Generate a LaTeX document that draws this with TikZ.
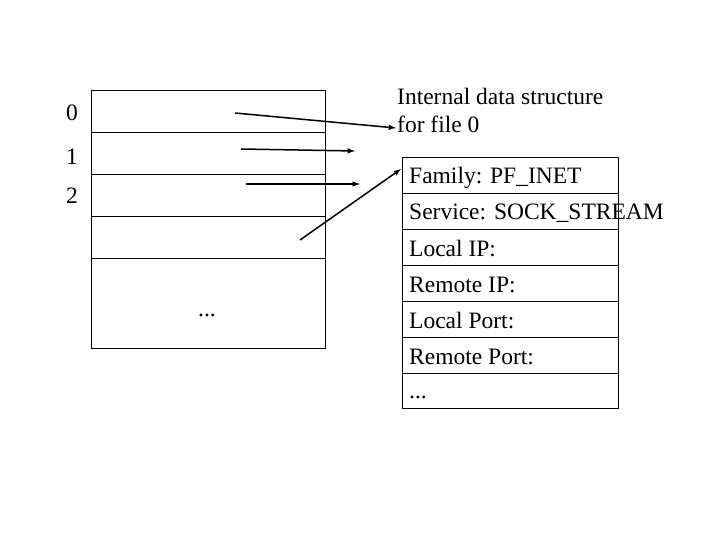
\documentclass[tikz,border=0pt]{standalone}
\usepackage{fontspec}
\setmainfont{Liberation Serif}
\begin{document}
\begin{tikzpicture}[x=1pt,y=-1pt,
  lab/.style={anchor=base west,inner sep=0,font=\fontsize{23.5}{27}\selectfont},
  arr/.style={-latex,line width=1.5pt}]
\useasboundingbox (0,0) rectangle (720,540);
\draw (91,90) rectangle (325,348);
\foreach \y in {132,174,216,258} \draw (91,\y) -- (325,\y);
\node[lab] (n0) at (66,121) {0};
\node[lab] (n1) at (66,165) {1};
\node[lab] (n2) at (66,204) {2};
\node[lab] (dl) at (198,316) {...};
\draw (402,157) rectangle (618,408);
\foreach \y in {193,229,265,301,337,373} \draw (402,\y) -- (618,\y);
\node[lab] (r1) at (409,184) {Family: PF\_INET};
\node[lab] (r2) at (409,220) {Service: SOCK\_STREAM};
\node[lab] (r3) at (409,256) {Local IP:};
\node[lab] (r4) at (409,292) {Remote IP:};
\node[lab] (r5) at (409,328) {Local Port:};
\node[lab] (r6) at (409,364) {Remote Port:};
\node[lab] (r7) at (409,398) {...};
\node[lab] (t1) at (397,105) {Internal data structure};
\node[lab] (t2) at (397,133) {for file 0};
\coordinate (a0) at (235,113); \coordinate (b0) at (396,128);
\coordinate (a1) at (241,149); \coordinate (b1) at (355,151);
\coordinate (a2) at (246,184); \coordinate (b2) at (360,184);
\coordinate (a3) at (300,240); \coordinate (b3) at (401,169);
\draw[arr] (a0) -- (b0);
\draw[arr] (a1) -- (b1);
\draw[arr] (a2) -- (b2);
\draw[arr] (a3) -- (b3);
\end{tikzpicture}
\end{document}
